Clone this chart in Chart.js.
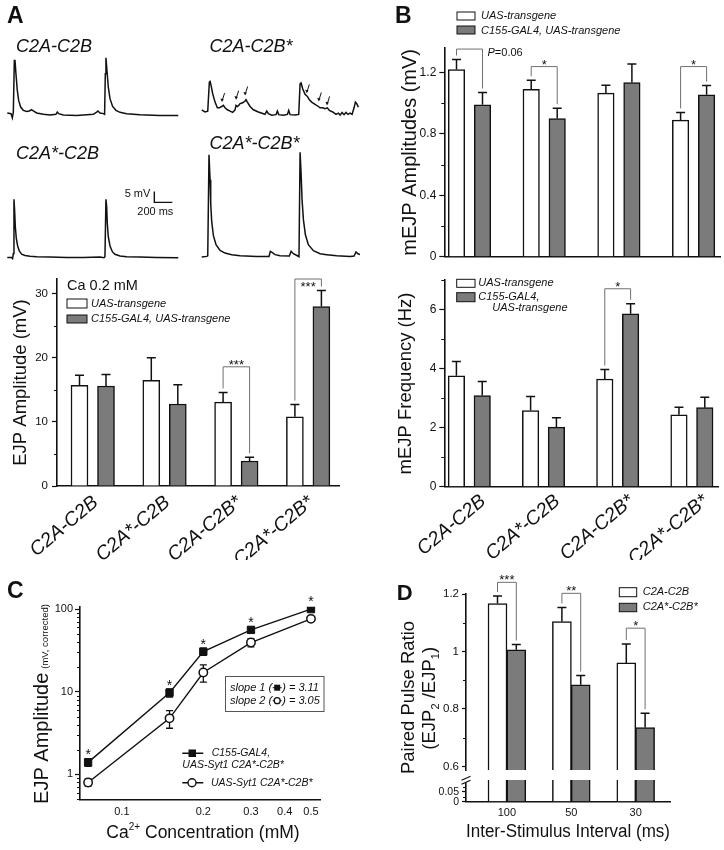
<!DOCTYPE html>
<html><head><meta charset="utf-8">
<script src="https://cdn.jsdelivr.net/npm/chart.js@4.4.1/dist/chart.umd.min.js"></script>
<style>
html,body{margin:0;padding:0;background:#fff;}
#root{position:relative;width:724px;height:850px;overflow:hidden;background:#fff;font-family:'Liberation Sans',Arial,Helvetica,sans-serif;}
#root canvas{position:absolute;}
.lbl{position:absolute;white-space:nowrap;color:#111;}
</style></head><body><div id="root"></div>
<script>
// ================= DATA =================
// Panel A traces: [time (ms), membrane potential (mV above baseline)]
const traceTitles = ['C2A-C2B', 'C2A-C2B*', 'C2A*-C2B', 'C2A*-C2B*'];
const traceC2AC2B = [[0,1.1],[41,0.8],[56,-1.1],[67,1.5],[78,25.0],[85,25.3],[96,18.9],[111,11.4],[126,6.8],[148,3.8],[178,2.3],[215,1.8],[244,2.0],[270,2.6],[289,2.0],[326,1.1],[400,0.5],[474,0.15],[540,0.5],[555,1.5],[570,0.8],[622,0.15],[770,0],[955,0.5],[992,1.5],[1006,2.0],[1029,1.1],[1066,0.8],[1080,0.5],[1088,18.9],[1095,26.2],[1106,20.5],[1121,12.9],[1140,7.6],[1169,4.1],[1206,2.3],[1251,1.4],[1325,0.8],[1473,0.3],[1695,0],[1898,0]];
const traceC2AC2Bs = [[0,3.0],[37,2.0],[67,2.4],[85,15.6],[93,15.9],[104,14.1],[122,10.3],[148,6.5],[174,3.9],[196,3.9],[222,4.5],[241,5.0],[259,3.9],[285,3.0],[315,2.4],[344,1.8],[370,3.0],[381,5.0],[396,4.5],[411,5.0],[426,5.8],[455,6.2],[481,7.0],[492,7.6],[507,6.5],[537,4.5],[574,3.0],[629,2.0],[685,1.2],[703,0.9],[722,2.4],[740,1.2],[777,0.5],[825,0.8],[840,2.4],[855,0.8],[907,0.5],[951,0.9],[966,2.7],[981,0.8],[1036,0.6],[1077,0.9],[1092,14.8],[1103,15.2],[1121,12.6],[1147,10.0],[1173,9.1],[1195,7.6],[1221,6.5],[1258,5.5],[1295,4.5],[1314,3.9],[1343,3.9],[1369,3.5],[1395,3.9],[1417,2.7],[1454,2.0],[1491,0.9],[1517,1.5],[1536,0.6],[1558,1.8],[1580,0.8],[1602,1.8],[1624,0.9],[1647,1.5],[1669,0.9],[1691,3.9],[1706,6.5],[1721,5.8],[1739,4.2]];
const traceC2AsC2B = [[0,0],[48,0],[59,-0.5],[67,1.8],[74,26.4],[81,21.5],[89,13.9],[100,8.6],[115,5.2],[133,2.9],[159,1.5],[196,0.9],[252,0.5],[326,0.3],[474,0.15],[659,0],[844,0],[1029,0.15],[1073,-0.15],[1084,0.3],[1095,26.4],[1103,23.0],[1110,15.5],[1121,9.4],[1140,5.2],[1166,2.6],[1195,1.4],[1251,0.6],[1325,0.3],[1473,0.15],[1658,0],[1898,-0.15]];
const traceC2AsC2Bs = [[0,-0.3],[56,0],[67,0.3],[81,46.2],[93,34.8],[100,24.2],[111,15.9],[130,9.4],[159,5.3],[204,2.7],[259,1.5],[333,0.8],[426,0.3],[611,0],[747,0],[762,2.3],[781,1.8],[814,0.8],[870,0.3],[973,0.15],[992,2.3],[1018,1.2],[1062,0.3],[1080,-0.15],[1092,47.3],[1103,37.9],[1114,25.8],[1129,16.7],[1151,9.8],[1184,5.3],[1240,2.6],[1314,1.2],[1388,0.8],[1499,0.3],[1647,0],[1691,0.15],[1713,2.0],[1735,1.2],[1758,0.8]];
// arrows marking asynchronous events on the C2A-C2B* trace: [time (ms), mV at arrow tip]
const asyncArrows = [[225,6.5],[381,7.6],[481,9.5],[1166,10.5],[1299,6.8],[1391,5.0]];
const scaleBar = {ms: 200, mV: 5, atMs: 1632, atmV: 25.0};

// Bar panels
const genotypes = ['C2A-C2B', 'C2A*-C2B', 'C2A-C2B*', 'C2A*-C2B*'];
const seriesUAS = 'UAS-transgene';
const seriesGAL4 = 'C155-GAL4, UAS-transgene';

const ejpUAS = [15.7, 16.5, 13.1, 10.8];
const ejpUASsem = [1.6, 3.5, 1.5, 1.9];
const ejpGAL4 = [15.6, 12.8, 3.9, 28.0];
const ejpGAL4sem = [1.8, 3.0, 0.6, 2.5];
const ejpTicks = [0, 10, 20, 30];
const ejpMinor = [5, 15, 25];
const ejpSig = [{g: 2, top: 18.6, text: '***'}, {g: 3, top: 32.3, text: '***', inside: true}];

const mampUAS = [1.22, 1.09, 1.066, 0.89];
const mampUASsem = [0.065, 0.06, 0.052, 0.05];
const mampGAL4 = [0.99, 0.90, 1.135, 1.055];
const mampGAL4sem = [0.08, 0.068, 0.12, 0.06];
const mampTicks = [0, 0.4, 0.8, 1.2];
const mampMinor = [0.2, 0.6, 1.0];
const mampSig = [{g: 0, top: 1.353, text: 'P=0.06', side: true}, {g: 1, top: 1.239, text: '*'}, {g: 3, top: 1.239, text: '*'}];

const mfreqUAS = [3.76, 2.58, 3.65, 2.44];
const mfreqUASsem = [0.48, 0.48, 0.32, 0.25];
const mfreqGAL4 = [3.09, 2.02, 5.86, 2.68];
const mfreqGAL4sem = [0.48, 0.32, 0.34, 0.35];
const mfreqTicks = [0, 2, 4, 6];
const mfreqMinor = [1, 3, 5, 7];
const mfreqSig = [{g: 2, top: 6.71, text: '*'}];

// Panel C
const caConc = [0.075, 0.15, 0.2, 0.3, 0.5];
const ejpCaGAL4 = [1.40, 9.75, 30.6, 56.1, 100];
const ejpCaGAL4sem = [0.15, 1.1, 3.0, 4.0, 4.0];
const ejpCaUAS = [0.80, 4.77, 17.1, 39.4, 76.3];
const ejpCaUASsem = [0.08, 1.15, 4.0, 4.5, 3.0];
const caSignificant = [true, true, true, true, true];
const caXTicks = [0.1, 0.2, 0.3, 0.4, 0.5];
const caYTicks = [1, 10, 100];
const caYMinor = [0.5,0.6,0.7,0.8,0.9,2,3,4,5,6,7,8,9,20,30,40,50,60,70,80,90];
const caSlopes = ['3.11', '3.05'];
const caSeries = ['C155-GAL4,', 'UAS-Syt1 C2A*-C2B*', 'UAS-Syt1 C2A*-C2B*'];

// Panel D
const isiLabels = ['100', '50', '30'];
const ppSeries = ['C2A-C2B', 'C2A*-C2B*'];
const ppWT = [1.167, 1.104, 0.960];
const ppWTsem = [0.026, 0.049, 0.066];
const ppMut = [1.006, 0.884, 0.735];
const ppMutsem = [0.018, 0.032, 0.050];
const ppTicksUpper = [0.6, 0.8, 1.0, 1.2];
const ppMinorUpper = [0.7, 0.9, 1.1];
const ppTicksLower = [0, 0.05];
const ppMinorLower = [0.025, 0.075];
const ppSig = [{g: 0, top: 1.2406, text: '***'}, {g: 1, top: 1.2023, text: '**'}, {g: 2, top: 1.081, text: '*'}];

// ================= RENDERING =================
const FONT = "'Liberation Sans', Arial, Helvetica, sans-serif";
const BLACK = '#111';
const GRAY_BAR = '#7b7b7b';
const BRACKET = '#707070';
Chart.defaults.font.family = FONT;
Chart.defaults.color = BLACK;
const root = document.getElementById('root');
const MS_PER_PX = 11.1, MV_PER_PX = 0.4545;

function fnt(size, style, weight) { return (style || 'normal') + ' ' + (weight || 'normal') + ' ' + size + 'px ' + FONT; }
function mkCanvas(l, t, w, h) {
  const c = document.createElement('canvas');
  c.width = w; c.height = h;
  Object.assign(c.style, {left: l + 'px', top: t + 'px', width: w + 'px', height: h + 'px'});
  root.appendChild(c);
  return c;
}
function htmlText(txt, left, baseline, size, style, weight) {
  const d = document.createElement('div');
  d.className = 'lbl'; d.textContent = txt;
  Object.assign(d.style, {left: left + 'px', top: (baseline - 0.8465 * size) + 'px', fontSize: size + 'px', lineHeight: size + 'px', fontStyle: style || 'normal', fontWeight: weight || 'normal', fontFamily: FONT});
  root.appendChild(d);
}
function baseOpts(pad) {
  return {responsive: false, animation: false, events: [], layout: {padding: pad, autoPadding: false},
    plugins: {legend: {display: false}, tooltip: {enabled: false}, title: {display: false}}};
}
function drawStars(ctx, text, cx, cy, size) {
  ctx.font = fnt(size); ctx.textAlign = 'center'; ctx.textBaseline = 'alphabetic'; ctx.fillStyle = BLACK;
  ctx.fillText(text, cx, cy + 0.58 * size);
}
function minorTicks(axisId, values, len) {
  return {id: 'minor_' + axisId, afterDraw(chart) {
    const s = chart.scales[axisId], ctx = chart.ctx;
    ctx.save(); ctx.strokeStyle = BLACK; ctx.lineWidth = 1; ctx.beginPath();
    values.forEach(v => {
      if (v < s.min || v > s.max) return;
      const p = Math.round(s.getPixelForValue(v)) + 0.5;
      ctx.moveTo(s.right - len, p); ctx.lineTo(s.right, p);
    });
    ctx.stroke(); ctx.restore();
  }};
}
function legendPlugin(items, ox, oy) {
  return {id: 'legendbox', afterDraw(chart) {
    const ctx = chart.ctx; ctx.save();
    items.forEach(it => {
      if (it.box) {
        const [x0, y0, x1, y1] = it.box;
        ctx.fillStyle = it.fill; ctx.fillRect(x0 - ox, y0 - oy, x1 - x0, y1 - y0);
        ctx.strokeStyle = BLACK; ctx.lineWidth = 1; ctx.strokeRect(x0 - ox, y0 - oy, x1 - x0, y1 - y0);
      }
      if (it.text) {
        ctx.font = fnt(it.size || 11, it.style || 'italic'); ctx.fillStyle = BLACK;
        ctx.textAlign = 'left'; ctx.textBaseline = 'middle';
        ctx.fillText(it.text, it.x - ox, it.y - oy);
      }
    });
    ctx.restore();
  }};
}

// ---------- trace charts ----------
function traceChart(o) {
  const H = 112, vMin = -3, vMax = vMin + H * MV_PER_PX;
  const top = o.baseline - vMax / MV_PER_PX;
  const tMin = -(o.originX - o.left) * MS_PER_PX;
  const c = mkCanvas(o.left, top, o.width, H);
  const opts = baseOpts({left: 0, right: 0, top: 0, bottom: 0});
  opts.scales = {x: {type: 'linear', display: false, min: tMin, max: tMin + o.width * MS_PER_PX},
                 y: {type: 'linear', display: false, min: vMin, max: vMax}};
  return new Chart(c, {type: 'line',
    data: {datasets: [{data: o.points.map(p => ({x: p[0], y: p[1]})), borderColor: BLACK, borderWidth: 1.5, pointRadius: 0, tension: 0, clip: false, fill: false}]},
    options: opts, plugins: o.plugins || []});
}
traceChart({left: 7, width: 175, originX: 7.3, baseline: 115, points: traceC2AC2B});
traceChart({left: 201, width: 159, originX: 201.7, baseline: 116, points: traceC2AC2Bs, plugins: [{id: 'arrows', afterDraw(chart) {
  const ctx = chart.ctx, xs = chart.scales.x, ys = chart.scales.y;
  ctx.save(); ctx.strokeStyle = BLACK; ctx.fillStyle = BLACK; ctx.lineWidth = 1;
  asyncArrows.forEach(a => {
    const x = xs.getPixelForValue(a[0]), y = ys.getPixelForValue(a[1]);
    ctx.beginPath(); ctx.moveTo(x + 2.6, y - 9); ctx.lineTo(x + 0.4, y - 2); ctx.stroke();
    ctx.beginPath(); ctx.moveTo(x, y); ctx.lineTo(x - 1.6, y - 3.6); ctx.lineTo(x + 1.8, y - 2.8); ctx.closePath(); ctx.fill();
  });
  ctx.restore();
}}]});
traceChart({left: 7, width: 175, originX: 7.3, baseline: 257.3, points: traceC2AsC2B, plugins: [{id: 'scalebar', afterDraw(chart) {
  const ctx = chart.ctx, xs = chart.scales.x, ys = chart.scales.y;
  const x0 = xs.getPixelForValue(scaleBar.atMs), y0 = ys.getPixelForValue(scaleBar.atmV);
  const x1 = xs.getPixelForValue(scaleBar.atMs + scaleBar.ms), y1 = ys.getPixelForValue(scaleBar.atmV + scaleBar.mV);
  ctx.save(); ctx.strokeStyle = BLACK; ctx.lineWidth = 1.4;
  ctx.beginPath(); ctx.moveTo(x0, y1); ctx.lineTo(x0, y0); ctx.lineTo(x1, y0); ctx.stroke();
  ctx.fillStyle = BLACK; ctx.font = fnt(11); ctx.textBaseline = 'middle';
  ctx.textAlign = 'right'; ctx.fillText(scaleBar.mV + ' mV', x0 - 4, y0 - 8.5);
  ctx.textAlign = 'center'; ctx.fillText(scaleBar.ms + ' ms', x0 + 1, y0 + 9.5);
  ctx.restore();
}}]});
traceChart({left: 201, width: 159, originX: 201.7, baseline: 256.7, points: traceC2AsC2Bs});

// ---------- bar panels ----------
function barPanel(cfg) {
  const [bx, by, bw, bh] = cfg.box;
  const L = cfg.area[0] - bx, T = cfg.area[1] - by, R = cfg.area[2] - bx, B = cfg.area[3] - by;
  const padL = cfg.padLeft || 0, padB = cfg.padBottom || 0;
  const yW = L - padL, xH = bh - padB - B;
  const sp = cfg.spacing;
  const xMin = -(cfg.firstCenter - cfg.area[0]) / sp;
  const xMax = xMin + (cfg.area[2] - cfg.area[0]) / sp;
  const off = cfg.offsetPx / sp;
  const cats = cfg.categories;
  const xt = cfg.xTicks;
  const lblShift = xt && xt.shiftPx ? xt.shiftPx / sp : 0;
  const c = mkCanvas(bx, by, bw, bh);
  const datasets = cfg.series.map((s, k) => {
    const d = {data: s.values.map((v, i) => ({x: i + (k === 0 ? -off : off), y: v})),
      backgroundColor: s.color, borderColor: BLACK, borderWidth: 1.5, barThickness: cfg.barPx,
      grouped: false, borderSkipped: 'start'};
    if (cfg.clip !== undefined) d.clip = cfg.clip;
    return d;
  });
  const opts = baseOpts({left: padL, top: T, right: bw - R, bottom: padB});
  opts.scales = {
    x: {type: 'linear', min: xMin, max: xMax, bounds: 'data', offset: false, display: cfg.xDisplay !== false,
      afterBuildTicks: s => { s.ticks = cats.map((_, i) => ({value: i + lblShift})); },
      afterFit: s => { s.height = xH; },
      ticks: {display: !!xt, autoSkip: false, minRotation: xt ? xt.rot : 0, maxRotation: xt ? xt.rot : 0,
        padding: xt ? xt.pad : 0, font: {size: xt ? xt.fs : 11, style: xt && xt.italic ? 'italic' : 'normal'}, color: BLACK,
        callback: v => cats[Math.round(v - lblShift)]},
      grid: {display: true, drawOnChartArea: false, drawTicks: false},
      border: {display: true, color: BLACK, width: 1.6},
      title: cfg.xTitle ? {display: true, text: cfg.xTitle.text, font: {size: cfg.xTitle.fs}, color: BLACK, padding: {top: 4, bottom: 4}} : {display: false}},
    y: {type: 'linear', min: cfg.y.min, max: cfg.y.max, bounds: 'data',
      afterBuildTicks: s => { s.ticks = cfg.y.major.map(v => ({value: v})); },
      afterFit: s => { s.width = yW; },
      ticks: {autoSkip: false, padding: cfg.y.pad, font: {size: cfg.y.fs}, color: BLACK, callback: v => String(v)},
      grid: {display: true, drawOnChartArea: false, drawTicks: true, tickLength: cfg.y.tl, color: BLACK, tickWidth: 1.2},
      border: {display: true, color: BLACK, width: 1.6},
      title: cfg.yTitle ? {display: true, text: cfg.yTitle.text, font: {size: cfg.yTitle.fs}, color: BLACK, padding: {top: 4, bottom: 4}} : {display: false}}
  };
  const plugins = [minorTicks('y', cfg.y.minor, 3)];
  if (cfg.errors !== false) plugins.push({id: 'errbars', afterDatasetsDraw(chart) {
    const ctx = chart.ctx, ys = chart.scales.y;
    ctx.save(); ctx.strokeStyle = BLACK; ctx.lineWidth = 1.5;
    cfg.series.forEach((s, k) => {
      const meta = chart.getDatasetMeta(k);
      s.values.forEach((v, i) => {
        const el = meta.data[i]; const yt = ys.getPixelForValue(v + s.sem[i]);
        ctx.beginPath(); ctx.moveTo(el.x, el.y); ctx.lineTo(el.x, yt);
        ctx.moveTo(el.x - 4.5, yt); ctx.lineTo(el.x + 4.5, yt); ctx.stroke();
      });
    });
    ctx.restore();
  }});
  if (cfg.brackets) plugins.push({id: 'brackets', afterDraw(chart) {
    const ctx = chart.ctx, ys = chart.scales.y;
    ctx.save();
    cfg.brackets.forEach(b => {
      const e0 = chart.getDatasetMeta(0).data[b.g], e1 = chart.getDatasetMeta(1).data[b.g];
      const s0 = cfg.series[0], s1 = cfg.series[1];
      const yT = ys.getPixelForValue(b.top);
      const yl = ys.getPixelForValue(s0.values[b.g] + s0.sem[b.g]) - 4;
      const yr = ys.getPixelForValue(s1.values[b.g] + s1.sem[b.g]) - 4;
      ctx.strokeStyle = BRACKET; ctx.lineWidth = 1;
      ctx.beginPath(); ctx.moveTo(e0.x, yl); ctx.lineTo(e0.x, yT); ctx.lineTo(e1.x, yT); ctx.lineTo(e1.x, yr); ctx.stroke();
      if (b.side) {
        const parts = b.text.split('=');
        ctx.fillStyle = BLACK; ctx.textBaseline = 'middle'; ctx.textAlign = 'left';
        ctx.font = fnt(11, 'italic'); ctx.fillText(parts[0], e1.x + 5, yT + 3.4);
        const w = ctx.measureText(parts[0]).width;
        ctx.font = fnt(11); ctx.fillText('=' + parts[1], e1.x + 5 + w, yT + 3.4);
      } else {
        drawStars(ctx, b.text, (e0.x + e1.x) / 2, b.inside ? yT + 4 : yT - 5.5, 13);
      }
    });
    ctx.restore();
  }});
  if (cfg.legend) plugins.push(legendPlugin(cfg.legend, bx, by));
  (cfg.extra || []).forEach(p => plugins.push(p));
  return new Chart(c, {type: 'bar', data: {datasets}, options: opts, plugins});
}

// Panel A bar chart
barPanel({box: [0, 260, 350, 300], area: [57, 279, 339, 486], padLeft: 5.9,
  firstCenter: 92.75, spacing: 71.8, offsetPx: 13.25, barPx: 17, categories: genotypes,
  series: [{values: ejpUAS, sem: ejpUASsem, color: '#ffffff'}, {values: ejpGAL4, sem: ejpGAL4sem, color: GRAY_BAR}],
  y: {min: 0, max: 32.3, major: ejpTicks, minor: ejpMinor, fs: 11.5, tl: 5, pad: 4},
  yTitle: {text: 'EJP Amplitude (mV)', fs: 18.5},
  xTicks: {rot: 40, fs: 19.5, pad: 5, italic: true, shiftPx: 3},
  brackets: ejpSig,
  legend: [{text: 'Ca 0.2 mM', x: 67, y: 286, size: 14.5, style: 'normal'},
    {box: [67, 299, 87, 308], fill: '#ffffff', text: seriesUAS, x: 91, y: 304},
    {box: [67, 315, 87, 323], fill: GRAY_BAR, text: seriesGAL4, x: 91, y: 319}]});

// Panel B top (mEJP amplitudes)
barPanel({box: [360, 0, 364, 270], area: [444.3, 48, 720, 256.7], padLeft: 34,
  firstCenter: 469.5, spacing: 74.7, offsetPx: 13, barPx: 16.5, categories: genotypes,
  series: [{values: mampUAS, sem: mampUASsem, color: '#ffffff'}, {values: mampGAL4, sem: mampGAL4sem, color: GRAY_BAR}],
  y: {min: 0, max: 1.36, major: mampTicks, minor: mampMinor, fs: 12, tl: 5, pad: 3},
  yTitle: {text: 'mEJP Amplitudes (mV)', fs: 20},
  brackets: mampSig,
  legend: [{box: [457, 12, 475, 20], fill: '#ffffff', text: seriesUAS, x: 481, y: 16},
    {box: [457, 26, 475, 34], fill: GRAY_BAR, text: seriesGAL4, x: 481, y: 31}]});

// Panel B bottom (mEJP frequency)
barPanel({box: [360, 270, 364, 290], area: [444.3, 279.3, 720, 486.7], padLeft: 30.4,
  firstCenter: 469.5, spacing: 74.7, offsetPx: 13, barPx: 16.5, categories: genotypes,
  series: [{values: mfreqUAS, sem: mfreqUASsem, color: '#ffffff'}, {values: mfreqGAL4, sem: mfreqGAL4sem, color: GRAY_BAR}],
  y: {min: 0, max: 7, major: mfreqTicks, minor: mfreqMinor, fs: 12, tl: 5, pad: 3},
  yTitle: {text: 'mEJP Frequency (Hz)', fs: 18.5},
  xTicks: {rot: 40, fs: 19.5, pad: 3, italic: true, shiftPx: 14},
  brackets: mfreqSig,
  legend: [{box: [456.7, 279.3, 475, 287.3], fill: '#ffffff', text: seriesUAS, x: 478.3, y: 283.3},
    {box: [456.7, 292.7, 475, 301.7], fill: GRAY_BAR, text: seriesGAL4.split(' ')[0], x: 478.3, y: 296.7},
    {text: seriesGAL4.split(' ')[1], x: 492.3, y: 308.3}]});

// ---------- Panel C ----------
(function () {
  const bx = 0, by = 560, bw = 360, bh = 290;
  const c = mkCanvas(bx, by, bw, bh);
  const opts = baseOpts({left: 0, top: 46.7, right: 40, bottom: 0});
  opts.scales = {
    x: {type: 'logarithmic', min: 0.07, max: 0.54, bounds: 'data',
      afterBuildTicks: s => { s.ticks = caXTicks.map(v => ({value: v})); },
      afterFit: s => { s.height = bh - 239.3; },
      ticks: {autoSkip: false, minRotation: 0, maxRotation: 0, padding: 6, font: {size: 11}, color: BLACK, callback: v => String(v)},
      grid: {display: true, drawOnChartArea: false, drawTicks: false},
      border: {display: true, color: BLACK, width: 1.6}},
    y: {type: 'logarithmic', min: 0.5, max: 107, bounds: 'data',
      afterBuildTicks: s => { s.ticks = caYTicks.map(v => ({value: v})); },
      afterFit: s => { s.width = 80; },
      ticks: {autoSkip: false, padding: 2, font: {size: 11}, color: BLACK, callback: v => String(v)},
      grid: {display: true, drawOnChartArea: false, drawTicks: true, tickLength: 5, color: BLACK, tickWidth: 1.2},
      border: {display: true, color: BLACK, width: 1.6}}
  };
  const mk = (vals) => caConc.map((x, i) => ({x, y: vals[i]}));
  const datasets = [
    {data: mk(ejpCaGAL4), borderColor: BLACK, borderWidth: 1.4, pointStyle: 'rect', pointRadius: 5.2, pointBackgroundColor: BLACK, pointBorderColor: BLACK, pointBorderWidth: 1, tension: 0, fill: false},
    {data: mk(ejpCaUAS), borderColor: BLACK, borderWidth: 1.4, pointStyle: 'circle', pointRadius: 4.2, pointBackgroundColor: '#ffffff', pointBorderColor: BLACK, pointBorderWidth: 1.5, tension: 0, fill: false}
  ];
  const sems = [ejpCaGAL4sem, ejpCaUASsem];
  const plugins = [minorTicks('y', caYMinor, 3), {
    id: 'cdeco',
    beforeDatasetsDraw(chart) {
      const ctx = chart.ctx, ys = chart.scales.y;
      ctx.save(); ctx.strokeStyle = BLACK; ctx.lineWidth = 1.3;
      [ejpCaGAL4, ejpCaUAS].forEach((vals, k) => {
        const meta = chart.getDatasetMeta(k);
        vals.forEach((v, i) => {
          const el = meta.data[i];
          const y1 = ys.getPixelForValue(v + sems[k][i]), y2 = ys.getPixelForValue(Math.max(v - sems[k][i], 0.01));
          ctx.beginPath(); ctx.moveTo(el.x, y1); ctx.lineTo(el.x, y2);
          ctx.moveTo(el.x - 3.5, y1); ctx.lineTo(el.x + 3.5, y1);
          ctx.moveTo(el.x - 3.5, y2); ctx.lineTo(el.x + 3.5, y2); ctx.stroke();
        });
      });
      ctx.restore();
    },
    afterDraw(chart) {
      const ctx = chart.ctx;
      ctx.save();
      const meta = chart.getDatasetMeta(0);
      caSignificant.forEach((s, i) => { if (s) drawStars(ctx, '*', meta.data[i].x, meta.data[i].y - 11, 14); });
      ctx.save(); ctx.translate(48, 144); ctx.rotate(-Math.PI / 2);
      ctx.fillStyle = BLACK; ctx.textBaseline = 'alphabetic'; ctx.textAlign = 'left';
      ctx.font = fnt(20); const a = ctx.measureText('EJP Amplitude').width;
      ctx.font = fnt(9.5); const b = ctx.measureText('(mV, corrected)').width;
      let x = -(a + b + 4) / 2;
      ctx.font = fnt(20); ctx.fillText('EJP Amplitude', x, 0);
      ctx.font = fnt(9.5); ctx.fillText('(mV, corrected)', x + a + 4, 0);
      ctx.restore();
      ctx.fillStyle = BLACK; ctx.textBaseline = 'alphabetic'; ctx.textAlign = 'left';
      ctx.font = fnt(17.5); const w1 = ctx.measureText('Ca').width, w3 = ctx.measureText(' Concentration (mM)').width;
      ctx.font = fnt(10); const w2 = ctx.measureText('2+').width;
      let tx = 203 - (w1 + w2 + w3) / 2; const tb = 277.5;
      ctx.font = fnt(17.5); ctx.fillText('Ca', tx, tb); tx += w1;
      ctx.font = fnt(10); ctx.fillText('2+', tx, tb - 7.5); tx += w2;
      ctx.font = fnt(17.5); ctx.fillText(' Concentration (mM)', tx, tb);
      ctx.strokeStyle = '#555'; ctx.lineWidth = 1; ctx.strokeRect(225.5, 116.5, 98.5, 35);
      const marker = (mx, my, filled) => {
        ctx.save(); ctx.strokeStyle = BLACK; ctx.lineWidth = 1;
        ctx.beginPath(); ctx.moveTo(mx - 4.5, my); ctx.lineTo(mx + 4.5, my); ctx.stroke();
        if (filled) { ctx.fillStyle = BLACK; ctx.fillRect(mx - 3, my - 3, 6, 6); }
        else { ctx.fillStyle = '#fff'; ctx.beginPath(); ctx.arc(mx, my, 3, 0, Math.PI * 2); ctx.fill(); ctx.lineWidth = 1.3; ctx.stroke(); }
        ctx.restore();
      };
      [['slope 1 (', caSlopes[0], 127.7, true], ['slope 2 (', caSlopes[1], 140.7, false]].forEach(r => {
        ctx.font = fnt(11, 'italic'); ctx.fillStyle = BLACK; ctx.textBaseline = 'middle'; ctx.textAlign = 'left';
        ctx.fillText(r[0], 230, r[2]);
        const w = ctx.measureText(r[0]).width;
        marker(230 + w + 5, r[2], r[3]);
        ctx.fillText(') = ' + r[1], 230 + w + 10, r[2]);
      });
      ctx.strokeStyle = BLACK; ctx.lineWidth = 1.4;
      ctx.beginPath(); ctx.moveTo(182.3, 193.3); ctx.lineTo(203.3, 193.3); ctx.moveTo(182.3, 222.7); ctx.lineTo(203.3, 222.7); ctx.stroke();
      ctx.fillStyle = BLACK; ctx.fillRect(188.5, 189.5, 7.5, 7.5);
      ctx.fillStyle = '#fff'; ctx.beginPath(); ctx.arc(192, 222.7, 4, 0, Math.PI * 2); ctx.fill(); ctx.lineWidth = 1.4; ctx.stroke();
      ctx.font = fnt(10.5, 'italic'); ctx.fillStyle = BLACK; ctx.textBaseline = 'middle'; ctx.textAlign = 'left';
      ctx.fillText(caSeries[0], 211.7, 193.3);
      ctx.fillText(caSeries[1], 182.3, 205.3);
      ctx.fillText(caSeries[2], 211, 222.7);
      ctx.restore();
    }
  }];
  new Chart(c, {type: 'line', data: {datasets}, options: opts, plugins});
})();

// ---------- Panel D ----------
const ppSeriesData = [{values: ppWT, sem: ppWTsem, color: '#ffffff'}, {values: ppMut, sem: ppMutsem, color: GRAY_BAR}];
barPanel({box: [360, 560, 364, 220], area: [466, 594, 670, 780], padLeft: 0,
  firstCenter: 506.9, spacing: 64.4, offsetPx: 9.4, barPx: 19, categories: isiLabels, xDisplay: false,
  series: ppSeriesData,
  y: {min: 0.587, max: 1.2, major: ppTicksUpper, minor: ppMinorUpper, fs: 11.5, tl: 4, pad: 3},
  brackets: ppSig,
  legend: [{box: [619.3, 587.7, 636.7, 596.7], fill: '#ffffff', text: ppSeries[0], x: 642.7, y: 591.7},
    {box: [619.3, 603.3, 636.7, 611.7], fill: GRAY_BAR, text: ppSeries[1], x: 642.7, y: 606.7}],
  extra: [{id: 'dytitle', afterDraw(chart) {
    const ctx = chart.ctx; ctx.save(); ctx.fillStyle = BLACK; ctx.textBaseline = 'alphabetic'; ctx.textAlign = 'left';
    ctx.save(); ctx.translate(54, 137.5); ctx.rotate(-Math.PI / 2);
    ctx.font = fnt(18.5); const t1 = 'Paired Pulse Ratio'; ctx.fillText(t1, -ctx.measureText(t1).width / 2, 0);
    ctx.restore();
    ctx.save(); ctx.translate(75, 138.3); ctx.rotate(-Math.PI / 2);
    const parts = [['(EJP', 18.5, 0], ['2', 11, 4], [' /EJP', 18.5, 0], ['1', 11, 4], [')', 18.5, 0]];
    let tot = 0; parts.forEach(p => { ctx.font = fnt(p[1]); tot += ctx.measureText(p[0]).width; });
    let x = -tot / 2;
    parts.forEach(p => { ctx.font = fnt(p[1]); ctx.fillText(p[0], x, p[2]); x += ctx.measureText(p[0]).width; });
    ctx.restore();
    ctx.restore();
  }}]});
barPanel({box: [360, 770, 364, 80], area: [466, 780, 670, 801.7], padLeft: 0, padBottom: 3.5,
  firstCenter: 506.9, spacing: 64.4, offsetPx: 9.4, barPx: 19, categories: isiLabels, clip: 0, errors: false,
  series: ppSeriesData,
  y: {min: 0, max: 0.1085, major: ppTicksLower, minor: ppMinorLower, fs: 10.5, tl: 4, pad: 3},
  xTicks: {rot: 0, fs: 11, pad: 5, italic: false},
  xTitle: {text: 'Inter-Stimulus Interval (ms)', fs: 18},
  extra: [{id: 'axisbreak', afterDraw(chart) {
    const ctx = chart.ctx; ctx.save();
    ctx.fillStyle = '#fff'; ctx.fillRect(102, 7.8, 8, 4.6);
    ctx.strokeStyle = BLACK; ctx.lineWidth = 1.2; ctx.beginPath();
    ctx.moveTo(101.5, 10.2); ctx.lineTo(110.5, 6.2);
    ctx.moveTo(101.5, 14.2); ctx.lineTo(110.5, 10.2);
    ctx.stroke(); ctx.restore();
  }}]});

// ---------- HTML labels ----------
htmlText('A', 7, 23.3, 23, 'normal', 'bold');
htmlText('B', 395, 23.3, 23, 'normal', 'bold');
htmlText('C', 7, 598.3, 23, 'normal', 'bold');
htmlText('D', 396.7, 600.5, 22, 'normal', 'bold');
htmlText(traceTitles[0], 16, 52, 18, 'italic');
htmlText(traceTitles[1], 209.5, 52.5, 18, 'italic');
htmlText(traceTitles[2], 16, 159, 18, 'italic');
htmlText(traceTitles[3], 209.5, 149, 18, 'italic');
</script></body></html>
